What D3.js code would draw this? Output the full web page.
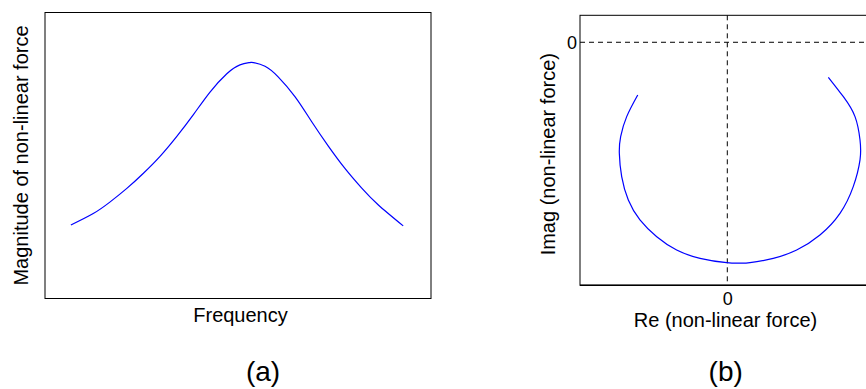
<!DOCTYPE html>
<html>
<head>
<meta charset="utf-8">
<script src="https://cdn.jsdelivr.net/npm/d3@7/dist/d3.min.js"></script>
<style>
  html, body { margin: 0; padding: 0; background: #fff; overflow: hidden; }
  svg { display: block; font-family: "Liberation Sans", Arial, sans-serif; }
</style>
</head>
<body>
<svg id="chart" width="866" height="389"></svg>
<script>
// ---- Panel (a): magnitude vs frequency (arbitrary units) ----
const freq = [6.7, 12.5, 16.8, 21.2, 25.5, 29.8, 34.1, 38.4, 42.7, 47.1, 50.5, 53.1, 54.0, 57.0, 60.4, 64.8, 69.1, 73.4, 77.7, 82.0, 86.3, 92.8];
const magnitude = [0.257, 0.297, 0.337, 0.385, 0.438, 0.497, 0.566, 0.642, 0.721, 0.786, 0.817, 0.825, 0.825, 0.812, 0.775, 0.705, 0.618, 0.533, 0.455, 0.387, 0.328, 0.254];

// ---- Panel (b): Nyquist-type plot of non-linear force ----
const reForce = [-0.608, -0.683, -0.724, -0.733, -0.717, -0.672, -0.593, -0.479, -0.344, -0.185, -0.004, 0.086, 0.154, 0.312, 0.471, 0.629, 0.765, 0.855, 0.901, 0.901, 0.867, 0.788, 0.686];
const imForce = [-0.217, -0.306, -0.388, -0.457, -0.553, -0.649, -0.731, -0.800, -0.855, -0.889, -0.907, -0.909, -0.907, -0.889, -0.855, -0.793, -0.704, -0.594, -0.484, -0.402, -0.306, -0.224, -0.144];
const reTicks = [0];
const imTicks = [0];

const labels = {
  aX: "Frequency",
  aY: "Magnitude of non-linear force",
  aTitle: "(a)",
  bX: "Re (non-linear force)",
  bY: "Imag (non-linear force)",
  bTitle: "(b)"
};

const svg = d3.select("#chart");
const FONT = 20;
const TICKFONT = 18;

// ================= Panel (a) =================
const a = { left: 45, right: 431, top: 12.5, bottom: 298.5 };
const xA = d3.scaleLinear().domain([0, 100]).range([a.left, a.right]);
const yA = d3.scaleLinear().domain([0, 1]).range([a.bottom, a.top]);

const gA = svg.append("g");
gA.append("g").attr("transform", `translate(0,${a.bottom})`)
  .call(d3.axisBottom(xA).tickValues([]).tickSizeOuter(0))
  .call(g => g.select(".domain").remove());
gA.append("rect")
  .attr("x", a.left).attr("y", a.top)
  .attr("width", a.right - a.left).attr("height", a.bottom - a.top)
  .attr("fill", "none").attr("stroke", "#000").attr("stroke-width", 1);

gA.append("path")
  .datum(freq.map((f, i) => [f, magnitude[i]]))
  .attr("fill", "none").attr("stroke", "#0000ff").attr("stroke-width", 1.2)
  .attr("d", d3.line().x(d => xA(d[0])).y(d => yA(d[1])).curve(d3.curveNatural));

gA.append("text").attr("x", 240.5).attr("y", 322).attr("text-anchor", "middle")
  .attr("font-size", FONT).attr("fill", "#000").text(labels.aX);
gA.append("text").attr("transform", "translate(28,155.5) rotate(-90)").attr("text-anchor", "middle")
  .attr("font-size", FONT).attr("fill", "#000").text(labels.aY);
gA.append("text").attr("x", 263).attr("y", 381).attr("text-anchor", "middle")
  .attr("font-size", 28).attr("fill", "#000").text(labels.aTitle);

// ================= Panel (b) =================
const b = { left: 580, right: 874.6, top: 15.3, bottom: 285.3 };
const xB = d3.scaleLinear().domain([-1, 1]).range([b.left, b.right]);
const yB = d3.scaleLinear().domain([-1, 0.111]).range([b.bottom, b.top]);

const gB = svg.append("g");

// dashed zero lines
gB.append("line")
  .attr("x1", xB(0)).attr("x2", xB(0)).attr("y1", b.top).attr("y2", b.bottom)
  .attr("stroke", "#000").attr("stroke-width", 1).attr("stroke-dasharray", "5,4");
gB.append("line")
  .attr("x1", b.left).attr("x2", b.right).attr("y1", yB(0)).attr("y2", yB(0))
  .attr("stroke", "#000").attr("stroke-width", 1).attr("stroke-dasharray", "5,4");

// frame
gB.append("rect")
  .attr("x", b.left).attr("y", b.top)
  .attr("width", b.right - b.left).attr("height", b.bottom - b.top)
  .attr("fill", "none").attr("stroke", "#000").attr("stroke-width", 1);
gB.append("line").attr("x1", b.left).attr("x2", b.right).attr("y1", b.bottom).attr("y2", b.bottom)
  .attr("stroke", "#000").attr("stroke-width", 1.6);

// axes with only zero tick labels
const axB = gB.append("g").attr("transform", `translate(0,${b.bottom})`)
  .call(d3.axisBottom(xB).tickValues(reTicks).tickSize(0).tickPadding(7).tickFormat(d3.format("d")));
axB.select(".domain").remove();
axB.selectAll("text").attr("font-size", TICKFONT).attr("font-family", null).attr("fill", "#000");

const ayB = gB.append("g").attr("transform", `translate(${b.left},0)`)
  .call(d3.axisLeft(yB).tickValues(imTicks).tickSize(0).tickPadding(3).tickFormat(d3.format("d")));
ayB.select(".domain").remove();
ayB.selectAll("text").attr("font-size", TICKFONT).attr("font-family", null).attr("fill", "#000");

// curve
gB.append("path")
  .datum(reForce.map((r, i) => [r, imForce[i]]))
  .attr("fill", "none").attr("stroke", "#0000ff").attr("stroke-width", 1.2)
  .attr("d", d3.line().x(d => xB(d[0])).y(d => yB(d[1])).curve(d3.curveNatural));

gB.append("text").attr("x", 725.5).attr("y", 327).attr("text-anchor", "middle")
  .attr("font-size", FONT).attr("fill", "#000").text(labels.bX);
gB.append("text").attr("transform", "translate(555,154.2) rotate(-90)").attr("text-anchor", "middle")
  .attr("font-size", FONT).attr("fill", "#000").text(labels.bY);
gB.append("text").attr("x", 725.7).attr("y", 381).attr("text-anchor", "middle")
  .attr("font-size", 28).attr("fill", "#000").text(labels.bTitle);
</script>
</body>
</html>
